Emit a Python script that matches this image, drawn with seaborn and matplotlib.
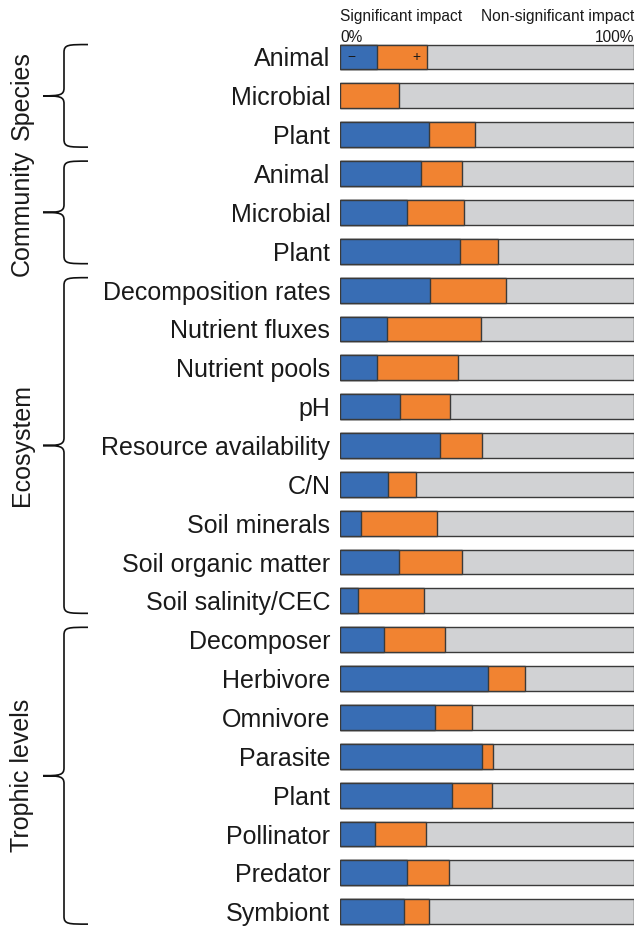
import numpy as np
import pandas as pd
import matplotlib
matplotlib.use("Agg")
import matplotlib.pyplot as plt
from matplotlib.path import Path
from matplotlib.patches import PathPatch
import matplotlib.transforms as mtransforms
import seaborn as sns

# ---------------- data ----------------
groups = ["Species", "Community", "Ecosystem", "Trophic levels"]
group_sizes = [3, 3, 9, 8]
categories = [
    "Animal", "Microbial", "Plant",
    "Animal", "Microbial", "Plant",
    "Decomposition rates", "Nutrient fluxes", "Nutrient pools", "pH",
    "Resource availability", "C/N", "Soil minerals", "Soil organic matter",
    "Soil salinity/CEC",
    "Decomposer", "Herbivore", "Omnivore", "Parasite", "Plant",
    "Pollinator", "Predator", "Symbiont",
]
negative = [12.5, 0.0, 30.2,
            27.4, 22.8, 40.9,
            30.7, 16.0, 12.5, 20.3, 33.9, 16.3, 7.3, 20.1, 6.1,
            14.9, 50.2, 32.2, 48.2, 38.1, 11.8, 22.7, 21.7]
positive = [17.2, 20.0, 15.6,
            14.1, 19.5, 12.7,
            25.7, 32.0, 27.6, 17.2, 14.4, 9.6, 25.7, 21.3, 22.5,
            20.7, 12.8, 12.7, 3.8, 13.5, 17.6, 14.3, 8.7]
total = [100.0] * len(categories)

# ---------------- style ----------------
sns.set_theme(style="white")
plt.rcParams["font.family"] = ["Liberation Sans", "DejaVu Sans"]

BLUE = "#386db4"
ORANGE = "#f18331"
GRAY = "#d1d2d4"
EDGE = "#3a3a3a"

W, H = 635, 926
fig = plt.figure(figsize=(W / 100, H / 100), dpi=100)

row_keys = [f"{i:02d}" for i in range(len(categories))]
df = pd.DataFrame({
    "row": row_keys,
    "neg": negative,
    "pos": positive,
    "total": total,
})
df["negpos"] = df["neg"] + df["pos"]

left_px, right_px = 340, 634
ax = fig.add_axes([left_px / W, 0, (right_px - left_px) / W, 1])

bar_w = 0.64
kw = dict(orient="h", order=row_keys, width=bar_w, edgecolor=EDGE,
          linewidth=1.0, ax=ax)
sns.barplot(data=df, x="total", y="row", color=GRAY, saturation=1, **kw)
sns.barplot(data=df, x="negpos", y="row", color=ORANGE, saturation=1, **kw)
sns.barplot(data=df[df["neg"] > 0], x="neg", y="row", color=BLUE,
            saturation=1, **kw)

# row spacing in px
first_c, step = 57.0, 38.85
ax.set_xlim(0, 100)
ax.set_ylim((H - first_c) / step, (0 - first_c) / step)

ax.set_yticks(range(len(categories)))
ax.set_yticklabels(categories, fontsize=18, color="#1a1a1a")
ax.tick_params(axis="y", length=0, pad=7)
ax.set_xticks([])
ax.set_xlabel("")
ax.set_ylabel("")
for s in ax.spines.values():
    s.set_visible(False)
ax.patch.set_alpha(0)

# -/+ markers in first bar
ax.text(2.5, 0, "\u2212", ha="left", va="center", fontsize=10, color="#1a1a1a")
ax.text(negative[0] + positive[0] - 2.5, 0, "+", ha="right", va="center",
        fontsize=10, color="#1a1a1a")

# header texts
fig.text(left_px / W, 1 - 20.5 / H, "Significant impact", ha="left",
         va="baseline", fontsize=11.2, color="#1a1a1a")
fig.text(right_px / W, 1 - 20.5 / H, "Non-significant impact", ha="right",
         va="baseline", fontsize=11.2, color="#1a1a1a")
fig.text(left_px / W, 1 - 42.5 / H, "0%", ha="left", va="baseline",
         fontsize=11.2, color="#1a1a1a")
fig.text(right_px / W, 1 - 42.5 / H, "100%", ha="right", va="baseline",
         fontsize=11.2, color="#1a1a1a")

# braces and group labels
trans = mtransforms.blended_transform_factory(fig.transFigure, ax.transData)
x_end, x_spine, x_tip = 88 / W, 64 / W, 43 / W
r = 0.2
start = 0
for g, n in zip(groups, group_sizes):
    y0 = start - bar_w / 2
    y1 = start + n - 1 + bar_w / 2
    ym = (y0 + y1) / 2
    xc = x_spine + 0.18 * (x_end - x_spine)
    xt = x_spine - 0.2 * (x_spine - x_tip)
    verts = [
        (x_end, y0),
        (xc, y0), (x_spine, y0), (x_spine, y0 + r),
        (x_spine, ym - r),
        (x_spine, ym - 0.02), (xt, ym), (x_tip, ym),
        (xt, ym), (x_spine, ym + 0.02), (x_spine, ym + r),
        (x_spine, y1 - r),
        (x_spine, y1), (xc, y1), (x_end, y1),
    ]
    codes = [Path.MOVETO,
             Path.CURVE4, Path.CURVE4, Path.CURVE4,
             Path.LINETO,
             Path.CURVE4, Path.CURVE4, Path.CURVE4,
             Path.CURVE4, Path.CURVE4, Path.CURVE4,
             Path.LINETO,
             Path.CURVE4, Path.CURVE4, Path.CURVE4]
    patch = PathPatch(Path(verts, codes), facecolor="none", edgecolor="#111111",
                      linewidth=1.2, transform=trans, clip_on=False)
    fig.add_artist(patch)
    ax.text(22 / W, ym, g, rotation=90, ha="center", va="center",
            fontsize=18, color="#1a1a1a", transform=trans, clip_on=False)
    start += n

fig.savefig("out.png", dpi=100)
